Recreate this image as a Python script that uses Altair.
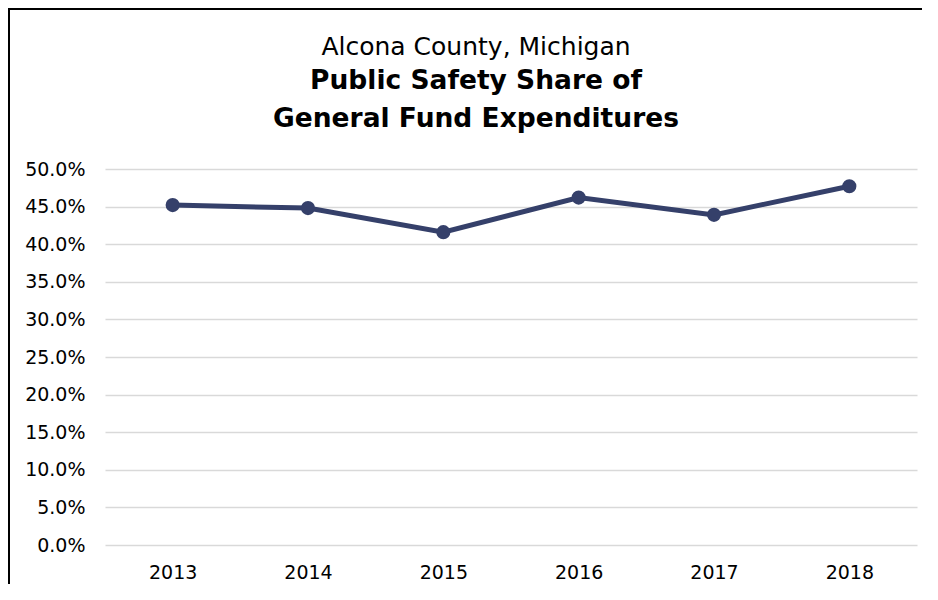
import altair as alt
import pandas as pd

years = ["2013", "2014", "2015", "2016", "2017", "2018"]
shares = [0.452, 0.448, 0.416, 0.462, 0.439, 0.477]
y_ticks = [0.0, 0.05, 0.10, 0.15, 0.20, 0.25, 0.30, 0.35, 0.40, 0.45, 0.50]

df = pd.DataFrame({"year": years, "share": shares})

FONT = "DejaVu Sans"
LINE_COLOR = "#35406A"

x_enc = alt.X(
    "year:O",
    title=None,
    axis=alt.Axis(labelAngle=0, ticks=False, domain=False, grid=False,
                  labelPadding=18, labelFontSize=19, labelFont=FONT, labelColor="#000000"),
)
y_enc = alt.Y(
    "share:Q",
    title=None,
    scale=alt.Scale(domain=[0, 0.5], nice=False),
    axis=alt.Axis(values=y_ticks, format=".1%", ticks=False, domain=False,
                  gridColor="#D9D9D9", gridWidth=1.5, labelPadding=20,
                  labelFontSize=19, labelFont=FONT, labelColor="#000000"),
)

base = alt.Chart(df).encode(x=x_enc, y=y_enc)
line = base.mark_line(color=LINE_COLOR, strokeWidth=5)
points = base.mark_circle(color=LINE_COLOR, size=200, opacity=1)

frame = alt.Chart(alt.Data(values=[{"a": 1}])).mark_rect(
    fill="white", fillOpacity=0, stroke="#000000", strokeWidth=2
).encode(
    x=alt.value(-96), x2=alt.value(900), y=alt.value(-160), y2=alt.value(700)
)

chart = alt.layer(frame, line, points).properties(
    width=812,
    height=376,
    background="white",
    autosize=alt.AutoSizeParams(type="none"),
    padding={"left": 97, "top": 161, "right": 5, "bottom": 39},
    title=alt.TitleParams(
        text="Alcona County, Michigan",
        subtitle=["Public Safety Share of", "General Fund Expenditures"],
        anchor="middle",
        frame="group",
        dx=-35,
        dy=154,
        offset=30,
        font=FONT,
        fontSize=25,
        fontWeight="normal",
        color="#000000",
        subtitleFont=FONT,
        subtitleFontSize=26.5,
        subtitleFontWeight="bold",
        subtitleColor="#000000",
        subtitleLineHeight=38,
        subtitlePadding=8,
    ),
).configure_view(stroke=None)

chart.save("out.html", embed_options={"renderer": "svg", "actions": False})
